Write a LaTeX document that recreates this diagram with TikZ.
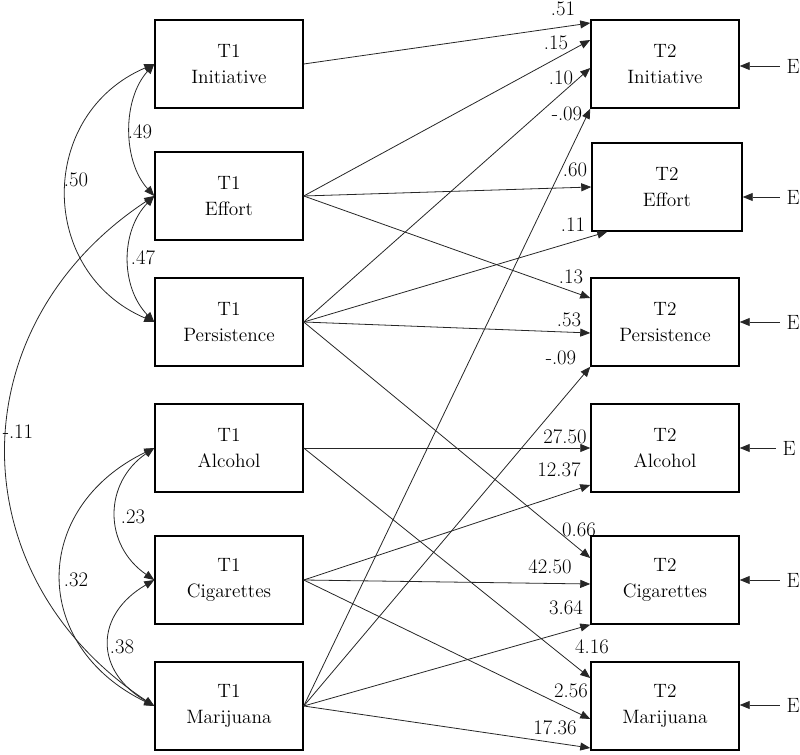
\documentclass[tikz,border=0pt]{standalone}
\usepackage{fontspec}
\usetikzlibrary{arrows.meta,calc}

\tikzset{
  box/.style={draw, line width=1.1pt, minimum width=111pt, minimum height=66pt, inner sep=0pt, align=center, font=\fontsize{14.5}{19}\selectfont},
  lbl/.style={inner sep=0.75pt, font=\fontsize{15.5}{18}\selectfont},
  enode/.style={inner sep=5pt, font=\fontsize{15.5}{18}\selectfont},
  regr/.style={draw=black!85, line width=0.6pt, -{Triangle[length=7.5pt,width=6pt]}},
  corr/.style={draw=black!85, line width=0.6pt, {Triangle[length=7.5pt,width=6pt]}-{Triangle[length=7.5pt,width=6pt]}}
}

\begin{document}
\begin{tikzpicture}[x=0.75pt,y=0.75pt,yscale=-1,xscale=1]
\useasboundingbox (0,0) rectangle (800,755);

% T1 boxes
\node[box] (t1ini) at (229,64) {T1\\Initiative};
\node[box] (t1eff) at (229,196) {T1\\Effort};
\node[box] (t1per) at (229,322) {T1\\Persistence};
\node[box] (t1alc) at (229,448) {T1\\Alcohol};
\node[box] (t1cig) at (229,580) {T1\\Cigarettes};
\node[box] (t1mar) at (229,706) {T1\\Marijuana};
% T2 boxes
\node[box] (t2ini) at (665,64) {T2\\Initiative};
\node[box, minimum width=112.5pt] (t2eff) at (667,187) {T2\\Effort};
\node[box] (t2per) at (665,322) {T2\\Persistence};
\node[box] (t2alc) at (665,448) {T2\\Alcohol};
\node[box] (t2cig) at (665,580) {T2\\Cigarettes};
\node[box] (t2mar) at (665,706) {T2\\Marijuana};

% Error terms
\node[enode] (e1) at (793,66) {E};
\node[enode] (e2) at (793,197) {E};
\node[enode] (e3) at (793,322) {E};
\node[enode] (e4) at (789,448) {E};
\node[enode] (e5) at (793,580) {E};
\node[enode] (e6) at (793,705) {E};
\draw[regr] (e1.west) -- (e1.west -| t2ini.east);
\draw[regr] (e2.west) -- (e2.west -| t2eff.east);
\draw[regr] (e3.west) -- (e3.west -| t2per.east);
\draw[regr] (e4.west) -- (e4.west -| t2alc.east);
\draw[regr] (e5.west) -- (e5.west -| t2cig.east);
\draw[regr] (e6.west) -- (e6.west -| t2mar.east);

%Curve Lines
\draw[corr] (t1ini.west) .. controls +(-32,35) and +(-32,-35) .. (t1eff.west);
\draw[corr] (t1eff.west) .. controls +(-34,35) and +(-34,-35) .. (t1per.west);
\draw[corr] (t1ini.west) .. controls +(-117,50) and +(-117,-50) .. (t1per.west);
\draw[corr] (t1eff.west) .. controls +(-197,130) and +(-197,-130) .. (t1mar.west);
\draw[corr] (t1alc.west) .. controls +(-51,35) and +(-51,-35) .. (t1cig.west);
\draw[corr] (t1cig.west) .. controls +(-60,35) and +(-60,-35) .. (t1mar.west);
\draw[corr] (t1alc.west) .. controls +(-124,60) and +(-124,-60) .. (t1mar.west);

%Straight Lines
\draw[regr] (t1ini.east) -- ($(t2ini.west)+(0,-41)$);
\draw[regr] (t1eff.east) -- ($(t2ini.west)+(0,-24)$);
\draw[regr] (t1per.east) -- ($(t2ini.west)+(0,4)$);
\draw[regr] (t1mar.east) -- (t2ini.south west);
\draw[regr] (t1eff.east) -- (t2eff.west);
\draw[regr] (t1per.east) -- ($(t2eff.south west)+(16,0)$);
\draw[regr] (t1eff.east) -- ($(t2per.west)+(0,-24)$);
\draw[regr] (t1per.east) -- ($(t2per.west)+(0,11)$);
\draw[regr] (t1mar.east) -- (t2per.south west);
\draw[regr] (t1alc.east) -- (t2alc.west);
\draw[regr] (t1cig.east) -- ($(t2alc.west)+(0,37)$);
\draw[regr] (t1per.east) -- ($(t2cig.west)+(0,-22)$);
\draw[regr] (t1cig.east) -- ($(t2cig.west)+(0,4)$);
\draw[regr] (t1mar.east) -- (t2cig.south west);
\draw[regr] (t1alc.east) -- ($(t2mar.west)+(0,-28)$);
\draw[regr] (t1cig.east) -- ($(t2mar.west)+(0,13)$);
\draw[regr] (t1mar.east) -- ($(t2mar.west)+(0,42)$);

% Text Node
\node[lbl] (c1) at (140,132) {.49};
\node[lbl] (c2) at (143,258) {.47};
\node[lbl] (c3) at (76,180) {.50};
\node[lbl] (c4) at (18,432) {-.11};
\node[lbl] (c5) at (133,517) {.23};
\node[lbl] (c6) at (122,647) {.38};
\node[lbl] (c7) at (76,580) {.32};
% Text Node
\node[lbl] (b1) at (563,9) {.51};
\node[lbl] (b2) at (556,43) {.15};
\node[lbl] (b3) at (561,78) {.10};
\node[lbl] (b4) at (567,114) {-.09};
\node[lbl] (b5) at (575,170) {.60};
\node[lbl] (b6) at (573,225) {.11};
\node[lbl] (b7) at (571,277) {.13};
\node[lbl] (b8) at (569,320) {.53};
\node[lbl] (b9) at (561,358) {-.09};
\node[lbl] (b10) at (565,437) {27.50};
\node[lbl] (b11) at (559,470) {12.37};
\node[lbl] (b12) at (579,530) {0.66};
\node[lbl] (b13) at (550,567) {42.50};
\node[lbl] (b14) at (566,608) {3.64};
\node[lbl] (b15) at (592,647) {4.16};
\node[lbl] (b16) at (571,691) {2.56};
\node[lbl] (b17) at (555,728) {17.36};

\end{tikzpicture}
\end{document}
